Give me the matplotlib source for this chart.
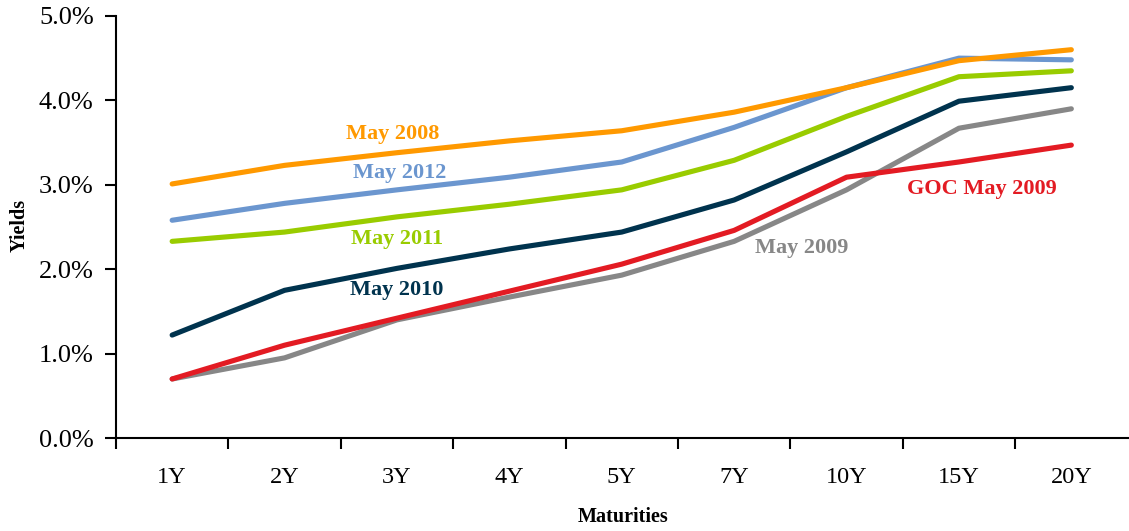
import numpy as np
import matplotlib.pyplot as plt
from matplotlib.ticker import FixedLocator, FuncFormatter

plt.rcParams['font.family'] = ['Liberation Serif', 'DejaVu Serif']

vencimientos = ["1Y", "2Y", "3Y", "4Y", "5Y", "7Y", "10Y", "15Y", "20Y"]

may_2008 = [3.01, 3.23, 3.38, 3.52, 3.64, 3.86, 4.15, 4.47, 4.60]
may_2012 = [2.58, 2.78, 2.94, 3.09, 3.27, 3.68, 4.15, 4.50, 4.48]
may_2011 = [2.33, 2.44, 2.62, 2.77, 2.94, 3.29, 3.81, 4.28, 4.35]
may_2010 = [1.22, 1.75, 2.01, 2.24, 2.44, 2.82, 3.39, 3.99, 4.15]
goc_may_2009 = [0.70, 1.10, 1.42, 1.74, 2.06, 2.46, 3.09, 3.27, 3.47]
may_2009 = [0.70, 0.95, 1.40, 1.67, 1.93, 2.33, 2.94, 3.67, 3.90]

x = np.arange(len(vencimientos)) + 0.5

fig = plt.figure(figsize=(11.29, 5.31), dpi=100)
ax = fig.add_axes([0.1027, 0.175, 0.896, 0.795])

lw = 3.7
ax.plot(x, may_2009, color="#878787", lw=lw, solid_capstyle="round")
ax.plot(x, goc_may_2009, color="#E31B23", lw=lw, solid_capstyle="round")
ax.plot(x, may_2010, color="#00334E", lw=lw, solid_capstyle="round")
ax.plot(x, may_2011, color="#99CC00", lw=lw, solid_capstyle="round")
ax.plot(x, may_2012, color="#6B96CF", lw=lw, solid_capstyle="round")
ax.plot(x, may_2008, color="#FF9900", lw=lw, solid_capstyle="round")

# etiquetas de cada curva, en coordenadas de datos
etiquetas = [
    ("May 2008", 2.46, 3.60, "#FF9900"),
    ("May 2012", 2.52, 3.14, "#6B96CF"),
    ("May 2011", 2.50, 2.36, "#99CC00"),
    ("May 2010", 2.50, 1.75, "#00334E"),
    ("GOC May 2009", 7.70, 2.95, "#E31B23"),
    ("May 2009", 6.10, 2.25, "#878787"),
]
for texto, tx, ty, c in etiquetas:
    ax.text(tx, ty, texto, color=c, fontsize=16, fontweight="bold",
            ha="center", va="center")

ax.set_xlim(0, len(vencimientos))
ax.set_ylim(0, 5)
ax.xaxis.set_major_locator(FixedLocator(np.arange(len(vencimientos))))
ax.xaxis.set_major_formatter(FuncFormatter(lambda v, p: ""))
ax.xaxis.set_minor_locator(FixedLocator(x))
ax.set_xticklabels(vencimientos, minor=True)
ax.tick_params(axis="x", which="major", direction="out", length=8, width=1.5)
ax.tick_params(axis="x", which="minor", length=0, pad=21, labelsize=17.5)

ax.set_yticks(np.arange(0, 5.01, 1))
ax.yaxis.set_major_formatter(FuncFormatter(lambda v, p: f"{v:.1f}%"))
ax.tick_params(axis="y", direction="out", length=8, width=1.5, labelsize=19, pad=8)

for lado in ["top", "right"]:
    ax.spines[lado].set_visible(False)
for lado in ["left", "bottom"]:
    ax.spines[lado].set_linewidth(1.5)

fig.text(623 / 1129, 1 - 517 / 531, "Maturities", fontsize=14.5, fontweight="bold",
         ha="center", va="center")
fig.text(20 / 1129, 1 - 225 / 531, "Yields", fontsize=14.5, fontweight="bold",
         ha="center", va="center", rotation=90)

fig.savefig("out.png", dpi=100)
